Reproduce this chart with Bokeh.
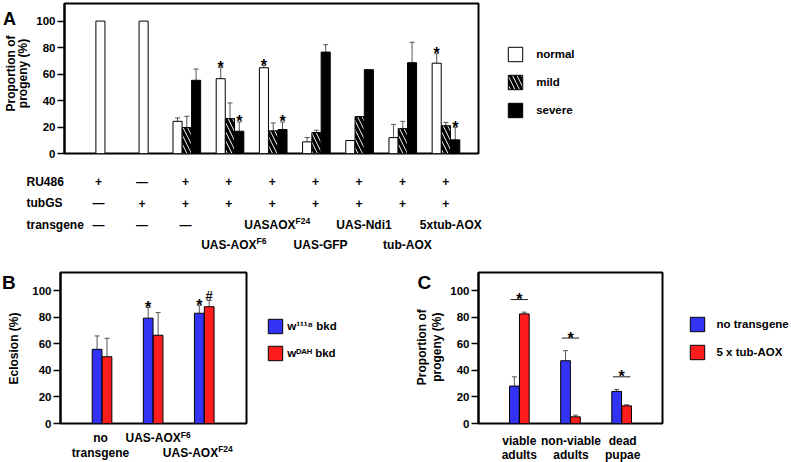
import math
from bokeh.plotting import figure
from bokeh.models import (Range1d, FixedTicker, ColumnDataSource, Whisker, TeeHead,
                          Legend, LegendItem)
from bokeh.layouts import column, row
from bokeh.core.properties import value
from bokeh.embed import file_html
from bokeh.resources import INLINE

FONT = "Liberation Sans"
BLUE = "#3333f5"
RED = "#ff1c1c"
ERR = "#555555"
NAN = float("nan")

# ---------------- data: panel A ----------------
a_groups = list(range(9))
ru486 = ["+", "—", "+", "+", "+", "+", "+", "+", "+"]
tubgs = ["—", "+", "+", "+", "+", "+", "+", "+", "+"]
transgene_base = ["—", "—", "—", "UAS-AOX", "UASAOX", "UAS-GFP", "UAS-Ndi1", "tub-AOX", "5xtub-AOX"]
transgene_sup = ["", "", "", "F6", "F24", "", "", "", ""]
transgene_lower = [False, False, False, True, False, True, False, True, False]
a_normal = [100, 100, 24.3, 56.5, 64.8, 8.8, 9.8, 12.0, 68.2]
a_normal_err = [0, 0, 2.6, 8.5, 1.8, 3.3, 0, 10.0, 7.2]
a_mild = [None, None, 19.6, 26.4, 17.1, 15.8, 27.9, 18.8, 21.0]
a_mild_err = [None, None, 8.5, 11.8, 6.0, 1.8, 0, 5.5, 2.5]
a_severe = [None, None, 55.3, 16.8, 18.1, 76.6, 63.3, 68.6, 10.3]
a_severe_err = [None, None, 8.5, 7.0, 5.7, 5.6, 0, 15.4, 9.5]
a_star_normal = [0, 0, 0, 1, 1, 0, 0, 0, 1]
a_star_severe = [0, 0, 0, 1, 1, 0, 0, 0, 1]
a_series = ["normal", "mild", "severe"]
row_names = ["RU486", "tubGS", "transgene"]

# ---------------- data: panel B ----------------
b_groups = ["no transgene", "UAS-AOX F6", "UAS-AOX F24"]
b_w1118 = [55.9, 79.4, 83.1]
b_w1118_err = [10.1, 8.0, 6.0]
b_wdah = [50.3, 66.5, 88.0]
b_wdah_err = [13.9, 17.1, 4.7]
b_star_w1118 = [0, 1, 1]
b_hash_wdah = [0, 0, 1]
b_series = ["w¹¹¹⁸ bkd", "wᴰᴬᴴ bkd"]

# ---------------- data: panel C ----------------
c_cats = ["viable adults", "non-viable adults", "dead pupae"]
c_cat_lines = [["viable", "adults"], ["non-viable", "adults"], ["dead", "pupae"]]
c_none = [28.2, 47.3, 24.2]
c_none_err = [7.0, 7.6, 1.5]
c_aox = [82.6, 5.0, 13.3]
c_aox_err = [1.3, 1.3, 0.8]
c_series = ["no transgene", "5 x tub-AOX"]

y_ticks = [0, 20, 40, 60, 80, 100]

# Arial-bold advance widths (1/1000 em) used to compose superscripts
AW = {' ': 278, '-': 333, 'A': 722, 'F': 611, 'G': 778, 'N': 722, 'O': 778, 'P': 667,
      'S': 667, 'U': 722, 'X': 667, 'a': 556, 'b': 611, 'd': 611, 'e': 556, 'i': 278,
      'n': 611, 'o': 611, 't': 333, 'u': 611, 'x': 556}


def tw(s, size):
    return sum(AW.get(c, 556) for c in s) * size / 1000.0


txt = dict(text_font=value(FONT), text_font_style="bold", text_color="black")


def style_yaxis(p):
    ax = p.yaxis[0]
    ax.ticker = FixedTicker(ticks=y_ticks)
    ax.major_label_text_font = FONT
    ax.major_label_text_font_style = "bold"
    ax.major_label_text_font_size = "11.5px"
    ax.major_label_text_color = "black"
    ax.major_label_standoff = 2
    ax.major_tick_out = 7
    ax.major_tick_in = 0
    ax.minor_tick_out = 0
    ax.minor_tick_in = 0
    ax.major_tick_line_width = 1.5
    ax.major_tick_line_color = "black"
    ax.axis_line_width = 2
    ax.axis_line_color = "black"


def base_fig(w, h, xr, yr, ml, mr, mt, mb):
    p = figure(width=w, height=h, x_range=xr, y_range=yr, output_backend="svg",
               toolbar_location=None, x_axis_location=None,
               min_border_left=ml, min_border_right=mr, min_border_top=mt, min_border_bottom=mb)
    p.frame_align = False
    p.grid.visible = False
    p.outline_line_color = "black"
    p.outline_line_width = 2
    p.background_fill_color = "white"
    p.border_fill_color = "white"
    style_yaxis(p)
    return p


def blank_fig(w, h, xr=None, yr=None):
    p = figure(width=w, height=h, x_range=xr or Range1d(0, w), y_range=yr or Range1d(h, 0),
               output_backend="svg", toolbar_location=None, x_axis_location=None,
               y_axis_location=None, min_border=0, min_border_left=0, min_border_right=0,
               min_border_top=0, min_border_bottom=0)
    p.frame_align = False
    p.grid.visible = False
    p.outline_line_color = None
    p.background_fill_color = "white"
    p.border_fill_color = "white"
    return p


def whiskers(p, xs, lows, errs):
    d = dict(x=[], lower=[], upper=[])
    for x, lo, e in zip(xs, lows, errs):
        if lo is not None and e:
            d["x"].append(x)
            d["lower"].append(lo)
            d["upper"].append(lo + e)
    p.add_layout(Whisker(source=ColumnDataSource(d), base="x", lower="lower", upper="upper",
                         dimension="height", line_color=ERR, line_width=1, lower_head=None,
                         upper_head=TeeHead(size=5, line_color=ERR, line_width=1)))


def legend_fig(w, h, labels, styles, loc, standoff, spacing):
    """A blank strip holding the legend; NaN proxy renderers carry the bar styles."""
    f = blank_fig(w, h)
    items = []
    for lab, st in zip(labels, styles):
        r = f.vbar(x=[NAN], top=[NAN], width=1, line_color="black", line_width=1, **st)
        items.append(LegendItem(label=lab, renderers=[r]))
    f.add_layout(Legend(items=items, location=loc, glyph_width=18, glyph_height=18,
                        label_height=18, label_width=10, label_standoff=standoff,
                        spacing=spacing, padding=0, margin=0, border_line_color=None,
                        background_fill_alpha=0, label_text_font=FONT,
                        label_text_font_style="bold", label_text_font_size="11.5px",
                        label_text_color="black"))
    return f


def sup_label(p, x, y, base, sup, dx, size=12, ssize=8.5, raise_px=3.5):
    wb, ws = tw(base, size), tw(sup, ssize)
    o = wb - (wb + ws) / 2 + dx
    p.text(x=[x], y=[y], text=[base], x_offset=o, text_font_size=f"{size}px",
           text_align="right", text_baseline="middle", **txt)
    if sup:
        p.text(x=[x], y=[y], text=[sup], x_offset=o, y_offset=-raise_px,
               text_font_size=f"{ssize}px", text_align="left", text_baseline="middle", **txt)


NORMAL_ST = dict(fill_color="white")
MILD_ST = dict(fill_color="white", hatch_pattern="\\", hatch_color="black",
               hatch_scale=9, hatch_weight=3.2)
SEVERE_ST = dict(fill_color="black")

# ======================= Row 1: panel A =======================
SA_W, H1 = 33, 160
A_X0, A_X1 = -0.832, 8.753
A_ML, A_FW, A_MR = 29, 416, 2
A_W = A_ML + A_FW + A_MR
pA = base_fig(A_W, H1, Range1d(A_X0, A_X1), Range1d(0, 113.3), A_ML, A_MR, 3, H1 - 153)

BW = 0.21
OFF = 0.215
nx, mx, my, sx, sy = [], [], [], [], []
for g in a_groups:
    single = a_mild[g] is None
    nx.append(g if single else g - OFF)
    if not single:
        mx.append(g)
        my.append(a_mild[g])
        sx.append(g + OFF)
        sy.append(a_severe[g])

pA.vbar(x=nx, top=a_normal, width=BW, bottom=0, line_color="black", line_width=1, **NORMAL_ST)
pA.vbar(x=mx, top=my, width=BW, bottom=0, line_color="black", line_width=1, **MILD_ST)
pA.vbar(x=sx, top=sy, width=BW, bottom=0, line_color="black", line_width=1, **SEVERE_ST)

whiskers(pA, nx, a_normal, a_normal_err)
whiskers(pA, mx, my, [v for v in a_mild_err if v is not None])
whiskers(pA, sx, sy, [v for v in a_severe_err if v is not None])

st_x, st_y = [], []
for g in a_groups:
    if a_star_normal[g]:
        st_x.append(g - OFF)
        st_y.append(a_normal[g] + a_normal_err[g])
    if a_star_severe[g]:
        st_x.append(g + OFF)
        st_y.append(a_severe[g] + a_severe_err[g])
pA.text(x=st_x, y=st_y, text=["*"] * len(st_x), text_font_size="16px", text_align="center",
        text_baseline="alphabetic", **txt)

# strip left of A: panel letter and y-axis title
sA = blank_fig(SA_W, H1)
sA.text(x=[2.5], y=[18.3], text=["A"], text_font_size="18px", text_align="left",
        text_baseline="alphabetic", **txt)
sA.text(x=[10.5, 22.5], y=[73, 73], text=["Proportion of", "progeny (%)"], angle=math.pi / 2,
        text_font_size="12px", text_align="center", text_baseline="middle", **txt)

# legend strip right of A
LA_W = 791 - SA_W - A_W
lA = legend_fig(LA_W, H1, a_series, [NORMAL_ST, MILD_ST, SEVERE_ST],
                (506.2 - SA_W - A_W, H1 - 119.2), 12, 10)

# ======================= Row 2: condition table =======================
kA = A_FW / (A_X1 - A_X0)
a_left_px = SA_W + A_ML
T_H = 252 - H1
T_PITCH = 21.5
T_X0 = A_X0 - a_left_px / kA
T_X1 = T_X0 + 791 / kA
t_top = -(181 - H1) / T_PITCH
pT = blank_fig(791, T_H, Range1d(T_X0, T_X1), Range1d(t_top + T_H / T_PITCH, t_top))
name_x = T_X0 + 26 / kA
pT.text(x=[name_x] * 3, y=[0, 1, 2], text=row_names, text_font_size="12px",
        text_align="left", text_baseline="middle", **txt)
sym_x, sym_y, sym_t = [], [], []
for g in a_groups:
    sym_x += [g, g]
    sym_y += [0, 1]
    sym_t += [ru486[g], tubgs[g]]
    if transgene_base[g] == "—":
        sym_x.append(g)
        sym_y.append(2)
        sym_t.append("—")
pT.text(x=sym_x, y=sym_y, text=sym_t, text_font_size="12px", text_align="center",
        text_baseline="middle", **txt)
for g in a_groups:
    if transgene_base[g] != "—":
        sup_label(pT, g, 2.95 if transgene_lower[g] else 2, transgene_base[g],
                  transgene_sup[g], 5)

# ======================= Row 3: panels B and C =======================
Y3 = 252
H3 = 462 - Y3
PB_H = 177
X_H = H3 - PB_H
xy0 = Y3 + PB_H

BW2 = 0.19
OF2 = 0.097

# ---- B
SB_W = 29
B_X0, B_X1 = -0.813, 2.827
B_ML, B_FW, B_MR = 29, 188, 2
B_W = B_ML + B_FW + B_MR
pB = base_fig(B_W, PB_H, Range1d(B_X0, B_X1), Range1d(0, 113.8), B_ML, B_MR, 20, PB_H - 171)
bx = list(range(len(b_groups)))
bx1 = [i - OF2 for i in bx]
bx2 = [i + OF2 for i in bx]
pB.vbar(x=bx1, top=b_w1118, width=BW2, fill_color=BLUE, line_color="black", line_width=1)
pB.vbar(x=bx2, top=b_wdah, width=BW2, fill_color=RED, line_color="black", line_width=1)
whiskers(pB, bx1, b_w1118, b_w1118_err)
whiskers(pB, bx2, b_wdah, b_wdah_err)
sbx = [bx1[i] for i in bx if b_star_w1118[i]]
sby = [b_w1118[i] + b_w1118_err[i] for i in bx if b_star_w1118[i]]
pB.text(x=sbx, y=sby, text=["*"] * len(sbx), text_font_size="16px", text_align="center",
        text_baseline="alphabetic", **txt)
hbx = [bx2[i] for i in bx if b_hash_wdah[i]]
hby = [b_wdah[i] + b_wdah_err[i] + 3.5 for i in bx if b_hash_wdah[i]]
pB.text(x=hbx, y=hby, text=["#"] * len(hbx), text_font_size="13px", text_align="center",
        text_baseline="alphabetic", **txt)

kB = B_FW / (B_X1 - B_X0)
xB0 = B_X0 - B_ML / kB
xB = blank_fig(B_W, X_H, Range1d(xB0, xB0 + B_W / kB), Range1d(X_H, 0))
xB.text(x=[0, 0], y=[437.5 - xy0, 452 - xy0], text=b_groups[0].split(" "),
        text_font_size="12px", text_align="center", text_baseline="middle", **txt)
sup_label(xB, 1, 437.5 - xy0, "UAS-AOX", "F6", 6)
sup_label(xB, 2, 452 - xy0, "UAS-AOX", "F24", -6)

sB = blank_fig(SB_W, H3)
sB.text(x=[1.5], y=[282 - Y3], text=["B"], text_font_size="19px", text_align="left",
        text_baseline="alphabetic", **txt)
sB.text(x=[13], y=[348 - Y3], text=["Eclosion (%)"], angle=math.pi / 2, text_font_size="12px",
        text_align="center", text_baseline="middle", **txt)

SC_X = 412
LB_X = SB_W + B_W
lB = legend_fig(SC_X - LB_X, H3, b_series, [dict(fill_color=BLUE), dict(fill_color=RED)],
                (266.2 - LB_X, H3 - (362.2 - Y3)), 3, 9)

# ---- C
SC_W = 35
C_X0, C_X1 = -0.799, 2.799
C_ML, C_FW, C_MR = 29, 186, 2
C_W = C_ML + C_FW + C_MR
pC = base_fig(C_W, PB_H, Range1d(C_X0, C_X1), Range1d(0, 113.8), C_ML, C_MR, 20, PB_H - 171)
cx = list(range(len(c_cats)))
cx1 = [i - OF2 for i in cx]
cx2 = [i + OF2 for i in cx]
pC.vbar(x=cx1, top=c_none, width=BW2, fill_color=BLUE, line_color="black", line_width=1)
pC.vbar(x=cx2, top=c_aox, width=BW2, fill_color=RED, line_color="black", line_width=1)
whiskers(pC, cx1, c_none, c_none_err)
whiskers(pC, cx2, c_aox, c_aox_err)
sig_y = [max(a + ea, b + eb) + 9.5 for a, ea, b, eb in zip(c_none, c_none_err, c_aox, c_aox_err)]
pC.segment(x0=[i - 0.17 for i in cx], y0=sig_y, x1=[i + 0.17 for i in cx], y1=sig_y,
           line_color="#222222", line_width=1)
pC.text(x=cx, y=sig_y, text=["*"] * len(cx), text_font_size="16px", text_align="center",
        text_baseline="alphabetic", **txt)

kC = C_FW / (C_X1 - C_X0)
xC0 = C_X0 - C_ML / kC
xC = blank_fig(C_W, X_H, Range1d(xC0, xC0 + C_W / kC), Range1d(X_H, 0))
xC.text(x=cx + cx, y=[440.7 - xy0] * 3 + [454 - xy0] * 3,
        text=[l[0] for l in c_cat_lines] + [l[1] for l in c_cat_lines],
        x_offset=1.5, text_font_size="12px", text_align="center", text_baseline="middle", **txt)

sC = blank_fig(SC_W, H3)
sC.text(x=[5], y=[282 - Y3], text=["C"], text_font_size="19px", text_align="left",
        text_baseline="alphabetic", **txt)
sC.text(x=[9.7, 24.7], y=[346.7 - Y3] * 2, text=["Proportion of", "progeny (%)"],
        angle=math.pi / 2, text_font_size="12px", text_align="center", text_baseline="middle",
        **txt)

LC_X = SC_X + SC_W + C_W
lC = legend_fig(791 - LC_X, H3, c_series, [dict(fill_color=BLUE), dict(fill_color=RED)],
                (687.5 - LC_X, H3 - (361 - Y3)), 11, 10)

layout = column(row(sA, pA, lA),
                pT,
                row(sB, column(pB, xB), lB, sC, column(pC, xC), lC))
open("out.html", "w").write(file_html(layout, INLINE))
